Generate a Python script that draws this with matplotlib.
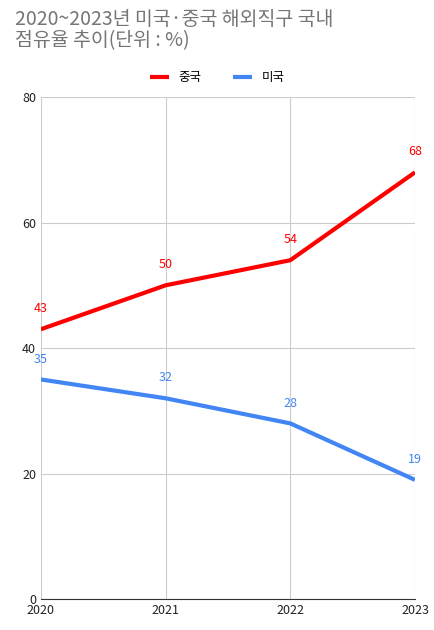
import matplotlib
matplotlib.use("Agg")
import matplotlib.pyplot as plt

plt.rcParams['font.family'] = ['Noto Sans CJK KR', 'DejaVu Sans']

years = ['2020', '2021', '2022', '2023']
china = [43, 50, 54, 68]
usa = [35, 32, 28, 19]
series_names = ['중국', '미국']
colors = ['#ff0000', '#4285f4']

fig = plt.figure(figsize=(4.35, 6.3), dpi=100)
ax = fig.add_axes([0.094, 0.049, 0.860, 0.797])
x = list(range(len(years)))
for vals, name, c in [(china, series_names[0], colors[0]), (usa, series_names[1], colors[1])]:
    ax.plot(x, vals, color=c, lw=3, label=name, solid_capstyle='butt')
    for xi, v in zip(x, vals):
        ax.annotate(str(v), (xi, v), xytext=(0, 10), textcoords='offset points',
                    ha='center', va='bottom', color=c, fontsize=9)

ax.set_xlim(0, 3)
ax.set_ylim(0, 80)
ax.set_yticks([0, 20, 40, 60, 80])
ax.set_xticks(x)
ax.set_xticklabels(years)
ax.grid(True, color='#cccccc', lw=0.8)
ax.tick_params(length=0, labelsize=9, colors='#222222')
for s in ['top', 'right', 'left']:
    ax.spines[s].set_visible(False)
ax.spines['bottom'].set_color('#333333')
ax.set_axisbelow(True)

fig.text(0.034, 0.985, '2020~2023년 미국·중국 해외직구 국내\n점유율 추이(단위 : %)', ha='left', va='top',
         fontsize=14, color='#757575', linespacing=1.0)
fig.legend(loc='upper center', bbox_to_anchor=(0.5, 0.905), ncol=2, frameon=False,
           fontsize=9, handlelength=1.5, columnspacing=2.5)

fig.savefig('out.png', dpi=100)
